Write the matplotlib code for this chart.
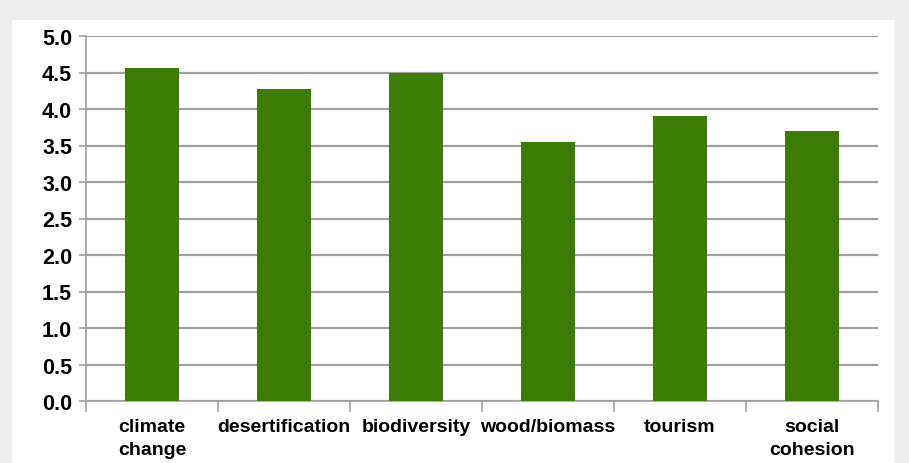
import matplotlib
matplotlib.use("Agg")
import matplotlib.pyplot as plt
from matplotlib.patches import Rectangle
import numpy as np

categories = ["climate\nchange", "desertification", "biodiversity", "wood/biomass", "tourism", "social\ncohesion"]
values = [4.56, 4.27, 4.49, 3.55, 3.90, 3.70]
yticks = [0.0, 0.5, 1.0, 1.5, 2.0, 2.5, 3.0, 3.5, 4.0, 4.5, 5.0]

plt.rcParams['font.family'] = ['Liberation Sans Narrow', 'Liberation Sans', 'DejaVu Sans']

W, H = 909, 464
fig = plt.figure(figsize=(W/100, H/100), dpi=100, facecolor='#EEEEEE')
fig.patches.append(Rectangle((12/W, 0), (895-12)/W, (H-21)/H, transform=fig.transFigure,
                             facecolor='white', edgecolor='none', zorder=-10))

ax = fig.add_axes([86/W, 1-402/H, (878-86)/W, (402-37)/H])
ax.set_facecolor('none')
x = np.arange(len(categories))
ax.bar(x, values, width=0.41, color='#3D7D07', zorder=3)
ax.set_xlim(-0.5, len(categories)-0.5)
ax.set_ylim(0, 5.0)
ax.set_yticks(yticks)
ax.set_yticklabels([f"{v:.1f}" for v in yticks], fontsize=15.5, fontweight='bold')
ax.yaxis.grid(True, color='#A0A0A0', linewidth=1.6, zorder=1)
ax.set_axisbelow(True)
ax.tick_params(axis='y', length=5, color='#A0A0A0', width=1.2, pad=5)

ax.set_xticks(x)
ax.set_xticklabels(categories, fontsize=14, fontweight='bold', linespacing=1.45)
ax.set_xticks(np.arange(len(categories)+1) - 0.5, minor=True)
ax.tick_params(axis='x', which='major', length=0, pad=12)
ax.tick_params(axis='x', which='minor', length=8, color='#A0A0A0', width=1.2)

for s in ['top', 'right']:
    ax.spines[s].set_visible(False)
for s in ['left', 'bottom']:
    ax.spines[s].set_color('#A0A0A0')
    ax.spines[s].set_linewidth(1.2)

fig.savefig('out.png', dpi=100, facecolor=fig.get_facecolor())
